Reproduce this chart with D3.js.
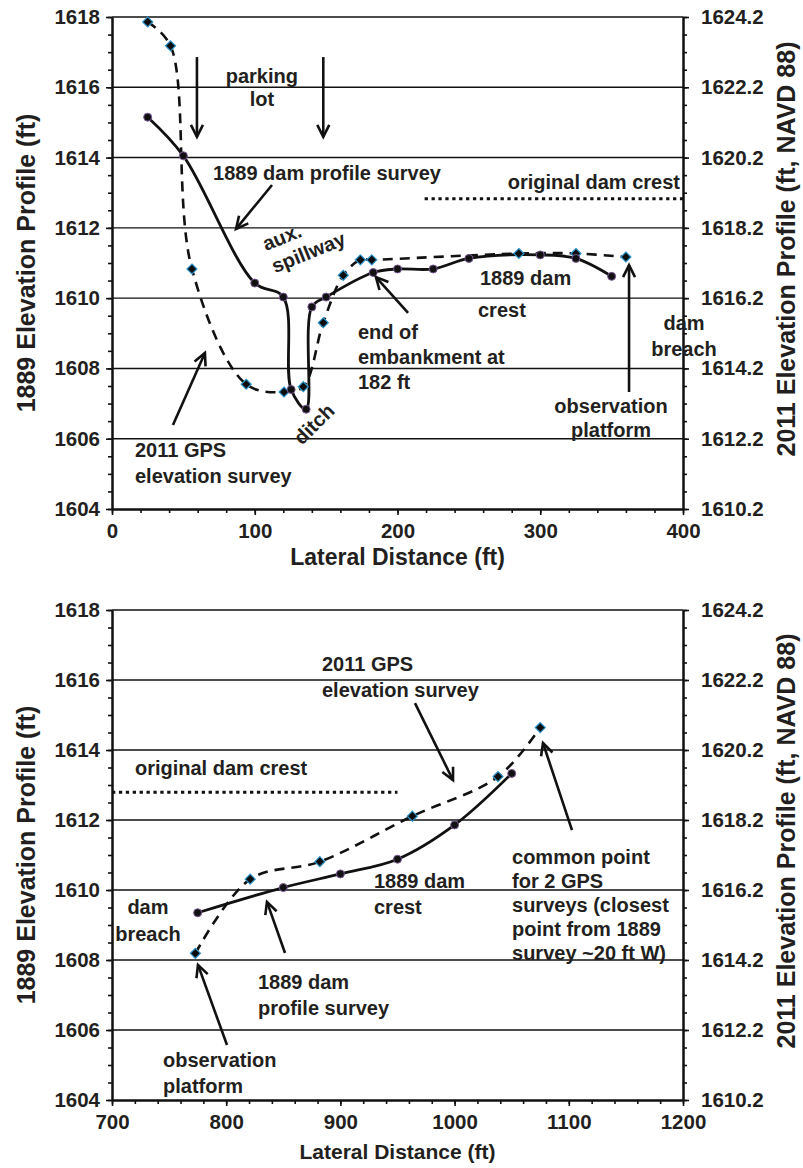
<!DOCTYPE html>
<html><head><meta charset="utf-8">
<script src="https://cdn.jsdelivr.net/npm/d3@7"></script>
<style>
body{margin:0;background:#fff}
text{font-family:"Liberation Sans",Arial,sans-serif;font-weight:bold;fill:#231f20}
</style>
</head><body>
<svg id="c" width="803" height="1168"></svg>
<script>
// ---------------- DATA ----------------
const leftTicks = [1604,1606,1608,1610,1612,1614,1616,1618];
const rightTicks = [1610.2,1612.2,1614.2,1616.2,1618.2,1620.2,1622.2,1624.2];
const topXTicks = [0,100,200,300,400];
const botXTicks = [700,800,900,1000,1100,1200];

// Top panel: 1889 dam profile survey (solid)
const top1889X = [25,50,100,120,125.5,136,140,150,183,200,225,250,300,325,350];
const top1889Y = [1615.15,1614.05,1610.43,1610.03,1607.4,1606.84,1609.75,1610.03,1610.73,1610.83,1610.83,1611.13,1611.23,1611.13,1610.62];
// Top panel: 2011 GPS elevation survey (dashed)
const top2011X = [25,41,56,94,120.5,134,148,162,174,182,285,325,360];
const top2011Y = [1617.86,1617.18,1610.83,1607.55,1607.33,1607.48,1609.3,1610.65,1611.09,1611.09,1611.27,1611.27,1611.17];
// Top panel: original dam crest (dotted)
const topCrestX = [219,400];
const topCrestY = [1612.83,1612.83];

// Bottom panel
const bot1889X = [775,850,900,950,1000,1050];
const bot1889Y = [1609.35,1610.07,1610.46,1610.88,1611.86,1613.33];
const bot2011X = [773,821,882,963,1038,1075];
const bot2011Y = [1608.19,1610.31,1610.81,1612.11,1613.24,1614.64];
const botCrestX = [700,950];
const botCrestY = [1612.79,1612.79];

// Annotations (data units): [text, x, y, anchor]
const topLabels = [
  ["parking",105,1616.32,"middle"],["lot",105,1615.67,"middle"],
  ["1889 dam profile survey",70.8,1613.56,"start"],
  ["original dam crest",397.9,1613.30,"end"],
  ["1889 dam",257.8,1610.57,"start"],["crest",256.4,1609.66,"start"],
  ["end of",172.3,1609.04,"start"],["embankment at",172.3,1608.33,"start"],["182 ft",172.3,1607.61,"start"],
  ["dam",400.7,1609.29,"middle"],["breach",400.7,1608.55,"middle"],
  ["observation",349.6,1606.93,"middle"],["platform",349.6,1606.25,"middle"],
  ["2011 GPS",16.1,1605.68,"start"],["elevation survey",16.1,1604.94,"start"]
];
const topArrows = [
  [59.5,1616.86,59.5,1614.59],[148,1616.86,148,1614.59],
  [112.1,1613.22,86.9,1611.97],
  [207.4,1609.58,184.9,1610.60],
  [362.2,1607.33,362.2,1610.94],
  [42.7,1606.39,65.1,1608.44]
];
const botLabels = [
  ["2011 GPS",883.9,1616.46,"start"],["elevation survey",883.9,1615.71,"start"],
  ["original dam crest",720.1,1613.49,"start"],
  ["1889 dam",929.4,1610.26,"start"],["crest",929.4,1609.51,"start"],
  ["dam",731.5,1609.51,"middle"],["breach",731.5,1608.74,"middle"],
  ["1889 dam",827.8,1607.37,"start"],["profile survey",827.8,1606.63,"start"],
  ["observation",744.7,1605.14,"start"],["platform",744.7,1604.40,"start"],
  ["common point",1050.3,1610.94,"start"],["for 2 GPS",1050.3,1610.26,"start"],
  ["surveys (closest",1050.3,1609.57,"start"],["point from 1889",1050.3,1608.89,"start"],
  ["survey ~20 ft W)",1050.3,1608.20,"start"]
];
const botArrows = [
  [965.3,1615.34,998.6,1613.14],
  [851.5,1608.2,835.7,1609.66],
  [800.7,1605.57,775.3,1607.86],
  [1102.8,1611.71,1077.4,1614.2]
];

// ---------------- DRAW ----------------
const svg = d3.select("#c");
svg.append("rect").attr("width",803).attr("height",1168).attr("fill","#fff");
const X0 = 112, X1 = 683;

function drawArrow(g, x1, y1, x2, y2){
  const a = Math.atan2(y2-y1, x2-x1), L = 12, W = 6;
  const bx = x2 - L*Math.cos(a), by = y2 - L*Math.sin(a);
  const px = -Math.sin(a)*W, py = Math.cos(a)*W;
  g.append("line").attr("x1",x1).attr("y1",y1).attr("x2",x2).attr("y2",y2)
    .attr("stroke","#111").attr("stroke-width",2.6);
  g.append("path").attr("d",`M${bx+px},${by+py}L${x2},${y2}L${bx-px},${by-py}`)
    .attr("fill","none").attr("stroke","#111").attr("stroke-width",2.6).attr("stroke-linejoin","miter");
}

function panel(cfg){
  const g = svg.append("g");
  const x = d3.scaleLinear().domain(cfg.xDomain).range([X0,X1]);
  const y = d3.scaleLinear().domain([1604,1618]).range([cfg.bottom,cfg.top]);
  const yR = d3.scaleLinear().domain([1610.2,1624.2]).range([cfg.bottom,cfg.top]);

  // gridlines
  g.append("g").selectAll("line").data(leftTicks.slice(1)).join("line")
    .attr("x1",X0).attr("x2",X1).attr("y1",d=>y(d)).attr("y2",d=>y(d))
    .attr("stroke","#111").attr("stroke-width",1.4);

  const minorY = d3.range(1604,1618.001,0.5);
  const minorYR = d3.range(1610.2,1624.201,0.5);
  const minorX = d3.range(cfg.xDomain[0],cfg.xDomain[1]+0.001,20);

  function styleAxis(sel, fs){
    sel.select(".domain").attr("stroke","#111").attr("stroke-width",2);
    sel.selectAll(".tick line").attr("stroke","#111").attr("stroke-width",1.6);
    sel.selectAll("text").style("font-size",fs+"px").style("font-family",'"Liberation Sans",Arial,sans-serif').style("font-weight","bold").attr("fill","#231f20");
  }
  // minor ticks
  g.append("g").attr("transform",`translate(${X0},0)`)
    .call(d3.axisLeft(y).tickValues(minorY).tickSize(4).tickFormat("").tickSizeOuter(0)).call(s=>styleAxis(s,20));
  g.append("g").attr("transform",`translate(${X1},0)`)
    .call(d3.axisRight(yR).tickValues(minorYR).tickSize(4).tickFormat("").tickSizeOuter(0)).call(s=>styleAxis(s,20));
  g.append("g").attr("transform",`translate(0,${cfg.bottom})`)
    .call(d3.axisBottom(x).tickValues(minorX).tickSize(4).tickFormat("").tickSizeOuter(0)).call(s=>styleAxis(s,20));
  // major axes
  g.append("g").attr("transform",`translate(${X0},0)`)
    .call(d3.axisLeft(y).tickValues(leftTicks).tickSize(6).tickPadding(6).tickFormat(d3.format("d")).tickSizeOuter(0))
    .call(s=>styleAxis(s,cfg.tickFs));
  g.append("g").attr("transform",`translate(${X1},0)`)
    .call(d3.axisRight(yR).tickValues(rightTicks).tickSize(6).tickPadding(12).tickFormat(d3.format(".1f")).tickSizeOuter(0))
    .call(s=>styleAxis(s,cfg.tickFs));
  g.append("g").attr("transform",`translate(0,${cfg.bottom})`)
    .call(d3.axisBottom(x).tickValues(cfg.xTicks).tickSize(6).tickPadding(8).tickFormat(d3.format("d")).tickSizeOuter(0))
    .call(s=>styleAxis(s,cfg.tickFs));

  // axis titles
  g.append("text").attr("x",(X0+X1)/2).attr("y",cfg.xTitleY).attr("text-anchor","middle")
    .attr("dy","0.35em").style("font-size",cfg.xTitleFs+"px").text("Lateral Distance (ft)");
  g.append("text").attr("transform",`translate(26,${(cfg.top+cfg.bottom)/2}) rotate(-90)`)
    .attr("text-anchor","middle").attr("dy","0.35em").style("font-size","25px").text("1889 Elevation Profile (ft)");
  g.append("text").attr("transform",`translate(786,${(cfg.top+cfg.bottom)/2-14}) rotate(-90)`)
    .attr("text-anchor","middle").attr("dy","0.35em").style("font-size","25px").text("2011 Elevation Profile (ft, NAVD 88)");

  // dotted crest
  const lineLin = d3.line().x(d=>x(d[0])).y(d=>y(d[1]));
  g.append("path").attr("d",lineLin(d3.zip(cfg.crestX,cfg.crestY)))
    .attr("fill","none").attr("stroke","#111").attr("stroke-width",3).attr("stroke-dasharray","3.3,3.6");

  const smooth = d3.line().x(d=>x(d[0])).y(d=>y(d[1])).curve(d3.curveCatmullRom.alpha(0.5));
  const d2011 = d3.zip(cfg.x2011,cfg.y2011), d1889 = d3.zip(cfg.x1889,cfg.y1889);
  g.append("path").attr("d",smooth(d2011)).attr("fill","none").attr("stroke","#111")
    .attr("stroke-width",2.6).attr("stroke-dasharray","10,7");
  g.append("path").attr("d",smooth(d1889)).attr("fill","none").attr("stroke","#111")
    .attr("stroke-width",2.8);

  g.append("g").selectAll("path").data(d2011).join("path")
    .attr("d",d=>{const cx=x(d[0]),cy=y(d[1]);return `M${cx},${cy-5}L${cx+5},${cy}L${cx},${cy+5}L${cx-5},${cy}Z`;})
    .attr("fill","#0d0d0d").attr("stroke","#2b93c9").attr("stroke-width",1.2);
  g.append("g").selectAll("circle").data(d1889).join("circle")
    .attr("cx",d=>x(d[0])).attr("cy",d=>y(d[1])).attr("r",4)
    .attr("fill","#111").attr("stroke","#7a5a96").attr("stroke-width",1);

  // annotations
  const ag = g.append("g");
  cfg.labels.forEach(([t,lx,ly,anc])=>{
    ag.append("text").attr("x",x(lx)).attr("y",y(ly)).attr("dy","0.35em")
      .attr("text-anchor",anc).style("font-size","20px").text(t);
  });
  cfg.arrows.forEach(([a,b,c,d])=>drawArrow(ag,x(a),y(b),x(c),y(d)));
  return {g,x,y};
}

const P1 = panel({xDomain:[0,400], xTicks:topXTicks, top:17, bottom:509, tickFs:20.5,
  xTitleY:557, xTitleFs:23,
  x1889:top1889X, y1889:top1889Y, x2011:top2011X, y2011:top2011Y,
  crestX:topCrestX, crestY:topCrestY, labels:topLabels, arrows:topArrows});

// rotated labels on top panel
P1.g.append("text").attr("transform",`translate(${P1.x(107.9)},${P1.y(1611.34)}) rotate(-22)`)
  .style("font-size","20px").text("aux.");
P1.g.append("text").attr("transform",`translate(${P1.x(107.9)},${P1.y(1611.34)}) rotate(-22) translate(0,24)`)
  .style("font-size","20px").text("spillway");
P1.g.append("text").attr("transform",`translate(${P1.x(141.5)},${P1.y(1606.42)}) rotate(-45)`)
  .attr("text-anchor","middle").attr("dy","0.35em").style("font-size","20px").text("ditch");

const P2 = panel({xDomain:[700,1200], xTicks:botXTicks, top:610, bottom:1100, tickFs:20.5,
  xTitleY:1152, xTitleFs:21,
  x1889:bot1889X, y1889:bot1889Y, x2011:bot2011X, y2011:bot2011Y,
  crestX:botCrestX, crestY:botCrestY, labels:botLabels, arrows:botArrows});
</script>
</body></html>
